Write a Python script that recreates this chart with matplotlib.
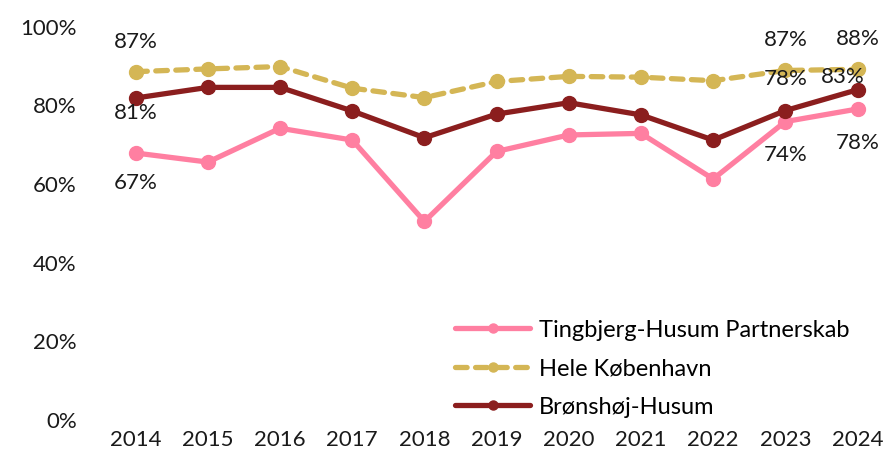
import matplotlib
matplotlib.use('Agg')
import matplotlib.pyplot as plt
import matplotlib.ticker as ticker

plt.rcParams['font.family'] = ['Lato', 'DejaVu Sans']

years = ['2014', '2015', '2016', '2017', '2018', '2019', '2020', '2021', '2022', '2023', '2024']

tingbjerg = [67.9, 65.6, 74.2, 71.2, 50.5, 68.3, 72.5, 72.9, 61.3, 75.9, 79.1]
koebenhavn = [88.6, 89.3, 89.9, 84.4, 82.0, 86.1, 87.4, 87.2, 86.3, 88.9, 89.2]
broenshoej = [81.9, 84.6, 84.6, 78.6, 71.8, 77.8, 80.7, 77.6, 71.2, 78.7, 84.0]

series_names = ['Tingbjerg-Husum Partnerskab', 'Hele København', 'Brønshøj-Husum']

# data labels as shown in the chart: (series, year index, text)
labels = [(0, 0, '67%'), (0, 9, '74%'), (0, 10, '78%'),
          (1, 0, '87%'), (1, 9, '87%'), (1, 10, '88%'),
          (2, 0, '81%'), (2, 9, '78%'), (2, 10, '83%')]

COLORS = ['#FF7FA1', '#D4B655', '#8B1E1E']
STYLES = ['-', (0, (2.2, 1.6)), '-']
# label offsets in pixels (dx, dy)
OFFS = {(0, 0): (0, -30), (0, 9): (0, -33), (0, 10): (0, -34),
        (1, 0): (0, 30), (1, 9): (0, 30), (1, 10): (0, 30),
        (2, 0): (0, -15), (2, 9): (0, 32), (2, 10): (-15, 13)}

fig = plt.figure(figsize=(8.9, 4.55), dpi=100)
ax = fig.add_axes([0.116, 0.077, 0.884, 0.864])

x = list(range(len(years)))
all_series = [tingbjerg, koebenhavn, broenshoej]
for s, vals in enumerate(all_series):
    ax.plot(x, vals, color=COLORS[s], linestyle=STYLES[s], linewidth=3.8,
            marker='o', markersize=10, label=series_names[s],
            solid_capstyle='round', dash_capstyle='round')

for s, i, txt in labels:
    dx, dy = OFFS[(s, i)]
    ax.annotate(txt, (x[i], all_series[s][i]), xytext=(dx, dy),
                textcoords='offset pixels', ha='center', va='center',
                fontsize=16, color='#1a1a1a')

ax.set_xlim(-0.45, 10.45)
ax.set_ylim(0, 100)
ax.set_xticks(x)
ax.set_xticklabels(years)
ax.yaxis.set_major_locator(ticker.MultipleLocator(20))
ax.yaxis.set_major_formatter(ticker.FuncFormatter(lambda v, p: '%d%%' % v))
ax.tick_params(axis='both', length=0, labelsize=16, colors='#1a1a1a')
ax.tick_params(axis='x', pad=7)
ax.tick_params(axis='y', pad=19)
for sp in ax.spines.values():
    sp.set_visible(False)

ax.legend(loc='lower right', bbox_to_anchor=(0.975, -0.048), frameon=False,
          fontsize=17, handlelength=3.2, labelspacing=0.74, handletextpad=0.35,
          markerscale=0.65)

fig.savefig('out.png', dpi=100)
